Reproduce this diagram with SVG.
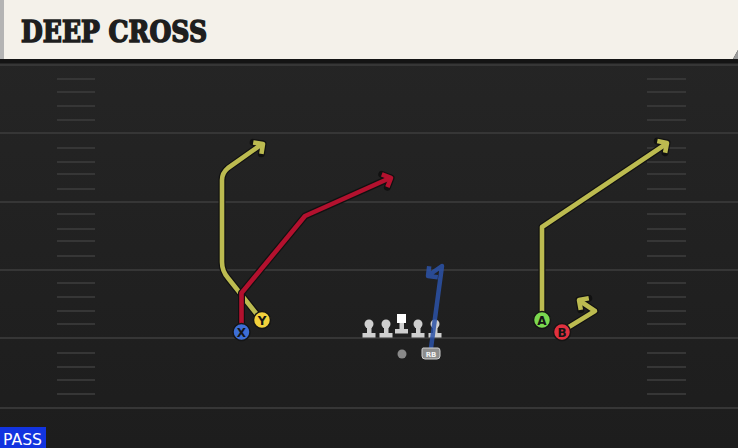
<svg xmlns="http://www.w3.org/2000/svg" width="738" height="448" viewBox="0 0 738 448">
<defs>
<linearGradient id="field" x1="0" y1="0" x2="0" y2="1">
<stop offset="0" stop-color="#262626"/>
<stop offset="1" stop-color="#1d1d1d"/>
</linearGradient>
<style>
.yl{stroke:#363636;stroke-width:2;fill:none}
.hm{stroke:#363636;stroke-width:2;fill:none}
.out{fill:none;stroke:#111;stroke-width:7;stroke-linejoin:round;stroke-linecap:round}
.rt{fill:none;stroke-width:4.6;stroke-linejoin:round;stroke-linecap:butt}
.yel{stroke:#bcbb50}
.red{stroke:#b3112e}
.pl{stroke:#151515;stroke-width:1.5}
.lt{font-family:"DejaVu Sans","Liberation Sans",sans-serif;font-weight:bold;font-size:12px;fill:#151515;text-anchor:middle}
.ol{fill:#cfcfcf}
</style>
</defs>
<rect x="0" y="0" width="738" height="448" fill="url(#field)"/>
<g id="header">
<rect x="0" y="0" width="738" height="63" fill="#141414"/>
<polygon points="0,0 738,0 738,50 733,59 0,59" fill="#f4f1ea"/>
<polygon points="733,59 738,50 738,59" fill="#9a9a9a"/>
<rect x="0" y="0" width="4" height="59" fill="#b4b4b4"/>
<text x="21" y="42" font-family="'DejaVu Serif','Liberation Serif',serif" font-weight="bold" font-size="29" fill="#1e1e1e" stroke="#1e1e1e" stroke-width="1.6" stroke-linejoin="miter" textLength="186" lengthAdjust="spacingAndGlyphs">DEEP CROSS</text>
</g>
<g id="field-lines">
<line class="yl" x1="0" y1="65" x2="738" y2="65"/>
<line class="yl" x1="0" y1="133" x2="738" y2="133"/>
<line class="yl" x1="0" y1="202" x2="738" y2="202"/>
<line class="yl" x1="0" y1="270" x2="738" y2="270"/>
<line class="yl" x1="0" y1="338" x2="738" y2="338"/>
<line class="yl" x1="0" y1="408" x2="738" y2="408"/>
<path class="hm" d="M57 79H95M57 92H95M57 106H95M57 120H95M57 148H95M57 162H95M57 174H95M57 189H95M57 214H95M57 229H95M57 241H95M57 256H95M57 283H95M57 297H95M57 311H95M57 324H95M57 353H95M57 367H95M57 380H95M57 394H95"/>
<path class="hm" d="M647 79H686M647 92H686M647 106H686M647 120H686M647 148H686M647 162H686M647 174H686M647 189H686M647 214H686M647 229H686M647 241H686M647 256H686M647 283H686M647 297H686M647 311H686M647 324H686M647 353H686M647 367H686M647 380H686M647 394H686"/>
</g>
<g id="connectors">
<g id="route-y">
<path class="out" d="M259 317L228 278Q222 271 222 262L222 180Q222 173 228 168L262 144"/>
<path class="out" d="M253.2 142.4L263 144L261.4 153.8"/>
<path class="rt yel" d="M259 317L228 278Q222 271 222 262L222 180Q222 173 228 168L262 144"/>
<path class="rt yel" d="M253.2 142.4L263 144L261.4 153.8"/>
</g>
<g id="route-x">
<path class="out" d="M241.5 330L241.5 293L305 216L390 178"/>
<path class="out" d="M381.8 174.4L391 178L387.4 187.2"/>
<path class="rt red" d="M241.5 330L241.5 293L305 216L390 178"/>
<path class="rt red" d="M381.8 174.4L391 178L387.4 187.2"/>
</g>
<g id="route-a">
<path class="out" d="M542 318L542 227L666 144"/>
<path class="out" d="M657.3 141.1L667 143L665.1 152.7"/>
<path class="rt yel" d="M542 318L542 227L666 144"/>
<path class="rt yel" d="M657.3 141.1L667 143L665.1 152.7"/>
</g>
<g id="route-b">
<path class="out" d="M564 330L595 311L580 301"/>
<path class="out" d="M588.8 298.2L579 300L580.8 309.8"/>
<path class="rt yel" d="M564 330L595 311L580 301"/>
<path class="rt yel" d="M588.8 298.2L579 300L580.8 309.8"/>
</g>
</g>
<g id="line">
<g id="lt1"><circle class="ol" cx="369" cy="324" r="4.5"/><rect class="ol" x="367" y="324" width="4.5" height="10"/><rect class="ol" x="362.5" y="333" width="13" height="4.5"/></g>
<g id="lt2"><circle class="ol" cx="386" cy="324" r="4.5"/><rect class="ol" x="384" y="324" width="4.5" height="10"/><rect class="ol" x="379.5" y="333" width="13" height="4.5"/></g>
<g id="c"><rect x="397" y="314" width="9" height="9" fill="#ffffff"/><rect class="ol" x="399.5" y="323" width="4.5" height="7"/><rect class="ol" x="395" y="329" width="13" height="4.5"/></g>
<g id="rt1"><circle class="ol" cx="418" cy="324" r="4.5"/><rect class="ol" x="416" y="324" width="4.5" height="10"/><rect class="ol" x="411.5" y="333" width="13" height="4.5"/></g>
<g id="rt2"><circle class="ol" cx="435" cy="324" r="4.5"/><rect class="ol" x="433" y="324" width="4.5" height="10"/><rect class="ol" x="428.5" y="333" width="13" height="4.5"/></g>
<g id="qb"><circle cx="402" cy="354" r="4.5" fill="#8a8a8a"/></g>
</g>
<g id="route-rb">
<path d="M431 348L442 266L429 275M429.2 266.2L428 276L437.8 277.2" fill="none" stroke="#2c52a8" stroke-width="4.5" stroke-linejoin="round" opacity="0.85"/>
</g>
<g id="rb">
<path d="M423 348H438Q440 348 440 351V356Q440 359 437 359H425Q422 359 422 356V350Q422 348 423 348Z" fill="#8c8c8c" stroke="#d0d0d0" stroke-width="1"/>
<text x="431" y="356.5" font-family="'DejaVu Sans','Liberation Sans',sans-serif" font-weight="bold" font-size="7" fill="#f2f2f2" text-anchor="middle">RB</text>
</g>
<g id="player-x"><circle class="pl" cx="241.5" cy="332" r="8.5" fill="#3d6ed6"/><text class="lt" x="241.5" y="336.5">X</text></g>
<g id="player-y"><circle class="pl" cx="262" cy="320" r="8.5" fill="#f2d13c"/><text class="lt" x="262" y="324.5">Y</text></g>
<g id="player-a"><circle class="pl" cx="542" cy="320" r="8.5" fill="#7bd84f"/><text class="lt" x="542" y="324.5">A</text></g>
<g id="player-b"><circle class="pl" cx="562" cy="332" r="8.5" fill="#e1313f"/><text class="lt" x="562" y="336.5">B</text></g>
<g id="pass">
<rect x="0" y="427" width="46" height="21" fill="#1234e0"/>
<text x="3" y="445" font-family="'DejaVu Sans','Liberation Sans',sans-serif" font-size="16" fill="#ffffff" textLength="39" lengthAdjust="spacingAndGlyphs">PASS</text>
</g>
</svg>
